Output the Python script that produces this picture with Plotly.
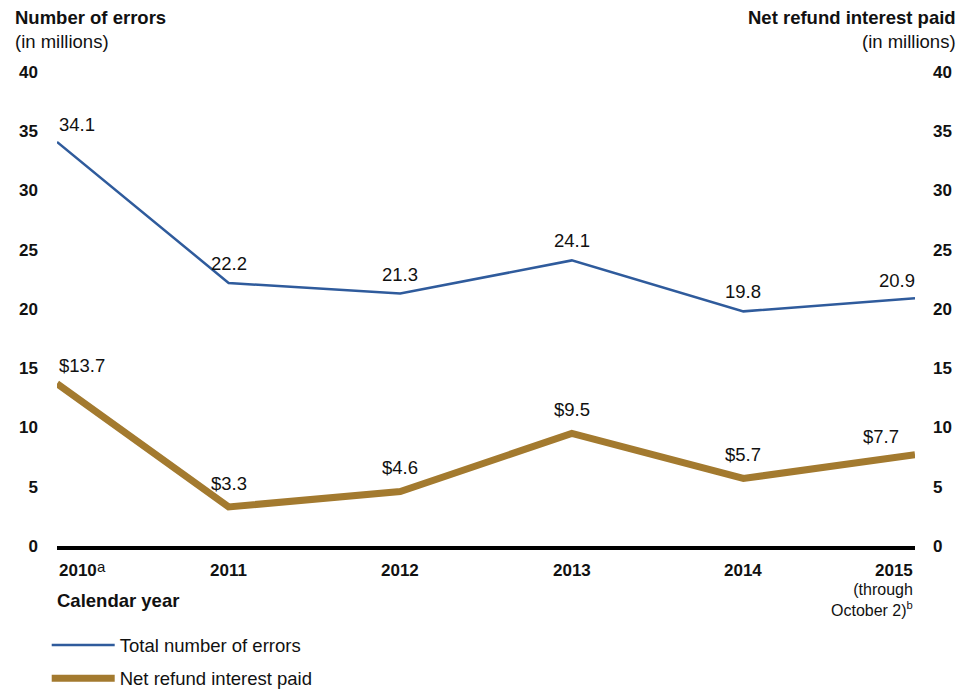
import plotly.graph_objects as go

years = [2010, 2011, 2012, 2013, 2014, 2015]
year_labels = ["<b>2010</b>", "<b>2011</b>", "<b>2012</b>", "<b>2013</b>", "<b>2014</b>", "<b>2015</b>"]
first_year_note = "a"
last_year_note = "(through<br>October 2)<sup>b</sup>"
errors = [34.1, 22.2, 21.3, 24.1, 19.8, 20.9]
interest = [13.7, 3.3, 4.6, 9.5, 5.7, 7.7]
error_labels = ["34.1", "22.2", "21.3", "24.1", "19.8", "20.9"]
interest_labels = ["$13.7", "$3.3", "$4.6", "$9.5", "$5.7", "$7.7"]
yticks = [0, 5, 10, 15, 20, 25, 30, 35, 40]

BLUE = "#2F5B9C"
GOLD = "#A37A2F"
TXT = "#111111"
FONT = "Liberation Sans, Arial, sans-serif"

fig = go.Figure()
fig.add_trace(go.Scatter(x=years, y=errors, mode="lines", name="Total number of errors",
                         line=dict(color=BLUE, width=2.5), cliponaxis=False, legendgroup="a"))
fig.add_trace(go.Scatter(x=years, y=interest, mode="lines", name="Net refund interest paid",
                         line=dict(color=GOLD, width=7), cliponaxis=False, yaxis="y2", legendgroup="b"))

def anchor(i, n):
    if i == 0:
        return "left"
    if i == n - 1:
        return "right"
    return "center"

n = len(years)
for i in range(n):
    xa = anchor(i, n)
    fig.add_annotation(x=years[i], y=errors[i], text=error_labels[i], showarrow=False,
                       xanchor=xa, yanchor="bottom", yshift=(5 if i in (0, 5) else 7),
                       xshift=2 if i == n - 1 else 0,
                       font=dict(size=18.5, color=TXT))
    fig.add_annotation(x=years[i], y=interest[i], yref="y2", text=interest_labels[i], showarrow=False,
                       xanchor=xa, yanchor="bottom", yshift=(6 if i in (0, n - 1) else 11),
                       xshift=-14 if i == n - 1 else 0,
                       font=dict(size=18.5, color=TXT))
    fig.add_annotation(x=years[i], y=0, text=year_labels[i], showarrow=False,
                       xanchor=xa, yanchor="top", yshift=-13,
                       font=dict(size=17, color=TXT))

# footnote markers on first and last year labels
fig.add_annotation(x=years[0], y=0, text=first_year_note, showarrow=False, xanchor="left", yanchor="top",
                   xshift=38, yshift=-10, font=dict(size=15, color=TXT))
fig.add_annotation(x=years[-1], y=0, text=last_year_note, showarrow=False, xanchor="right", yanchor="top",
                   yshift=-33, align="right", font=dict(size=16, color=TXT))

fig.add_annotation(xref="paper", yref="paper", x=-0.0513, y=1.116, text="<b>Number of errors</b>",
                   showarrow=False, xanchor="left", yanchor="middle", font=dict(size=18.5, color=TXT))
fig.add_annotation(xref="paper", yref="paper", x=-0.0513, y=1.065, text="(in millions)",
                   showarrow=False, xanchor="left", yanchor="middle", font=dict(size=18.5, color=TXT))
fig.add_annotation(xref="paper", yref="paper", x=1.05, y=1.116, text="<b>Net refund interest paid</b>",
                   showarrow=False, xanchor="right", yanchor="middle", font=dict(size=18.5, color=TXT))
fig.add_annotation(xref="paper", yref="paper", x=1.05, y=1.065, text="(in millions)",
                   showarrow=False, xanchor="right", yanchor="middle", font=dict(size=18.5, color=TXT))
fig.add_annotation(xref="paper", yref="paper", x=-0.002, y=-0.114, text="<b>Calendar year</b>",
                   showarrow=False, xanchor="left", yanchor="middle", font=dict(size=18.5, color=TXT))

fig.update_layout(
    width=969, height=691,
    margin=dict(l=49, r=62, t=64, b=153, autoexpand=False),
    paper_bgcolor="white", plot_bgcolor="white",
    font=dict(family=FONT, size=17, color=TXT),
    showlegend=True,
    legend=dict(x=-0.012, y=-0.17, xanchor="left", yanchor="top", orientation="v",
                font=dict(size=18.5, color=TXT), tracegroupgap=6, itemwidth=63,
                bgcolor="rgba(0,0,0,0)"),
    xaxis=dict(range=[2010, 2015], showgrid=False, zeroline=False, showticklabels=False,
               showline=True, linecolor="black", linewidth=4, ticks=""),
    yaxis=dict(range=[0, 40], tickvals=yticks, ticktext=[f"<b>{v}</b>" for v in yticks],
               showgrid=False, zeroline=False, showline=False, ticks="", ticklabelstandoff=18,
               tickfont=dict(size=17, color=TXT)),
    yaxis2=dict(range=[0, 40], tickvals=yticks, ticktext=[f"<b>{v}</b>" for v in yticks],
                overlaying="y", side="right", showgrid=False, zeroline=False, showline=False,
                ticks="", ticklabelstandoff=17, tickfont=dict(size=17, color=TXT)),
)

fig.write_html("out.html")
